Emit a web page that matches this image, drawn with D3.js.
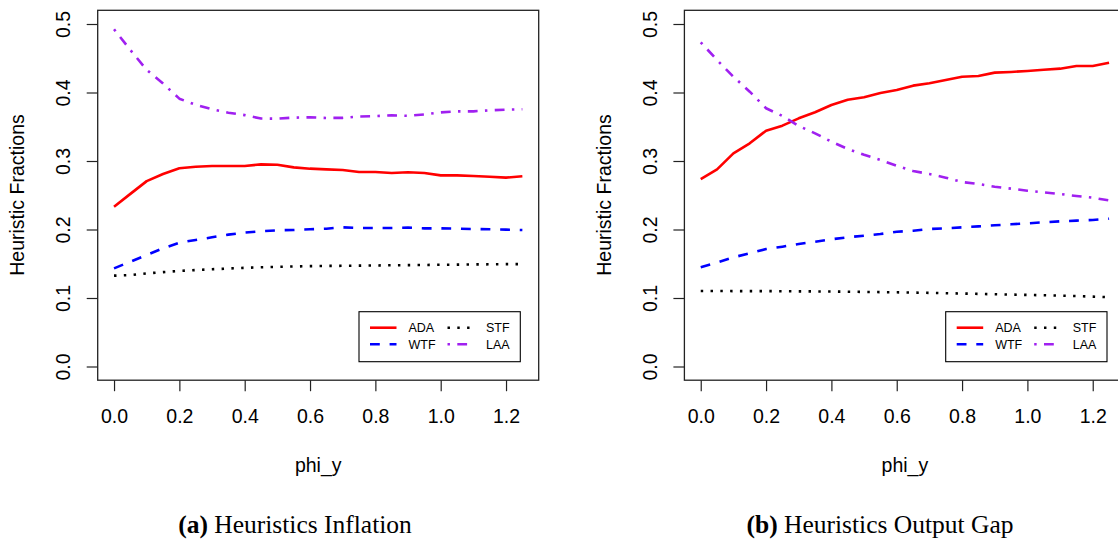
<!DOCTYPE html>
<html>
<head>
<meta charset="utf-8">
<script src="https://cdn.jsdelivr.net/npm/d3@7"></script>
<style>
  html, body { margin: 0; padding: 0; background: #fff; }
  svg { display: block; }
  .sans { font-family: "Liberation Sans", Arial, Helvetica, sans-serif; }
</style>
</head>
<body>
<svg id="chart" width="1118" height="541"></svg>
<script>
// ---------- data ----------
const phiY = [0, 0.05, 0.1, 0.15, 0.2, 0.25, 0.3, 0.35, 0.4, 0.45, 0.5, 0.55, 0.6,
              0.65, 0.7, 0.75, 0.8, 0.85, 0.9, 0.95, 1.0, 1.05, 1.1, 1.15, 1.2, 1.25];

const seriesNames = ["ADA", "WTF", "STF", "LAA"];
const xTicks = [0, 0.2, 0.4, 0.6, 0.8, 1.0, 1.2];
const yTicks = [0, 0.1, 0.2, 0.3, 0.4, 0.5];
const captionLabels = ["(a)", "(b)"];
const captionTexts = [" Heuristics Inflation", " Heuristics Output Gap"];

// (a) Heuristics Inflation
const adaInfl = [0.2333, 0.252, 0.2706, 0.281, 0.2893, 0.2917, 0.2927, 0.2927, 0.2927, 0.2951,
                 0.2946, 0.2907, 0.2888, 0.2878, 0.2869, 0.284, 0.284, 0.2825, 0.2835, 0.2825,
                 0.279, 0.279, 0.278, 0.277, 0.2757, 0.2777];
const wtfInfl = [0.1433, 0.153, 0.1628, 0.1725, 0.1808, 0.1847, 0.1886, 0.1925, 0.1954, 0.1974,
                 0.1988, 0.1993, 0.2003, 0.2012, 0.2032, 0.2022, 0.2022, 0.2022, 0.2027, 0.2017,
                 0.2017, 0.2012, 0.2007, 0.2003, 0.1998, 0.1993];
const stfInfl = [0.1326, 0.1335, 0.136, 0.1378, 0.1395, 0.1408, 0.142, 0.143, 0.144, 0.1448,
                 0.1455, 0.146, 0.1465, 0.1468, 0.147, 0.1472, 0.1475, 0.1478, 0.148, 0.1482,
                 0.1485, 0.1487, 0.149, 0.1492, 0.1494, 0.1495];
const laaInfl = [0.4923, 0.462, 0.433, 0.413, 0.391, 0.382, 0.3755, 0.3705, 0.367, 0.362,
                 0.3618, 0.3633, 0.3638, 0.3628, 0.363, 0.365, 0.3655, 0.3667, 0.366, 0.368,
                 0.371, 0.3725, 0.3725, 0.374, 0.375, 0.3755];

// (b) Heuristics Output Gap
const adaGap = [0.2737, 0.2878, 0.3112, 0.3258, 0.3443, 0.3516, 0.3623, 0.3711, 0.3818, 0.3895,
                0.393, 0.3993, 0.4036, 0.41, 0.4134, 0.4183, 0.4231, 0.4241, 0.429, 0.43,
                0.4314, 0.4333, 0.4348, 0.4387, 0.4387, 0.4435];
const wtfGap = [0.1448, 0.1516, 0.1594, 0.1652, 0.1715, 0.1749, 0.1788, 0.1822, 0.1857, 0.1886,
                0.191, 0.1934, 0.1968, 0.1982, 0.2007, 0.2017, 0.2032, 0.2046, 0.2061, 0.2076,
                0.209, 0.2105, 0.212, 0.2129, 0.2139, 0.2158];
const stfGap = [0.1102, 0.1102, 0.1101, 0.11, 0.11, 0.1099, 0.1097, 0.1096, 0.1094, 0.1092,
                0.1089, 0.1086, 0.1083, 0.1079, 0.1075, 0.107, 0.1065, 0.106, 0.1055, 0.105,
                0.1045, 0.104, 0.1034, 0.1028, 0.102, 0.1012];
const laaGap = [0.4733, 0.4474, 0.4231, 0.4012, 0.377, 0.3657, 0.3511, 0.3404, 0.3282, 0.3175,
                0.3092, 0.3015, 0.2931, 0.2854, 0.281, 0.2757, 0.2693, 0.2664, 0.2625, 0.2596,
                0.2566, 0.2543, 0.2518, 0.2489, 0.2464, 0.2425];

// ---------- styles ----------
const styles = {
  ADA: { color: "#FF0000", dash: null },
  WTF: { color: "#0000FF", dash: "9.8,9.8" },
  STF: { color: "#000000", dash: "2.45,7.35" },
  LAA: { color: "#A020F0", dash: "2.45,7.35,9.8,7.35" }
};

const panels = [
  { offset: 0, data: { ADA: adaInfl, WTF: wtfInfl, STF: stfInfl, LAA: laaInfl }, capX: 295 },
  { offset: 586.7, data: { ADA: adaGap, WTF: wtfGap, STF: stfGap, LAA: laaGap }, capX: 880 }
];

const svg = d3.select("#chart");
const FS = 19.5;
const y = d3.scaleLinear().domain([-0.02, 0.52]).range([380.2, 10.3]);

panels.forEach((p, pi) => {
  const x = d3.scaleLinear().domain([-0.05, 1.30]).range([97.7 + p.offset, 538.7 + p.offset]);
  const g = svg.append("g");

  // lines
  const line = d3.line().x((d, i) => x(phiY[i])).y(d => y(d));
  seriesNames.forEach(name => {
    const s = styles[name];
    g.append("path")
      .datum(p.data[name])
      .attr("d", line)
      .attr("fill", "none")
      .attr("stroke", s.color)
      .attr("stroke-width", 2.6)
      .attr("stroke-linejoin", "round")
      .attr("stroke-dasharray", s.dash);
  });

  // box
  g.append("rect")
    .attr("x", x.range()[0]).attr("y", y.range()[1])
    .attr("width", x.range()[1] - x.range()[0])
    .attr("height", y.range()[0] - y.range()[1])
    .attr("fill", "none").attr("stroke", "#222").attr("stroke-width", 1.3);

  // y axis
  const ya = g.append("g").attr("class", "sans")
    .attr("transform", `translate(${x.range()[0]},0)`)
    .call(d3.axisLeft(y).tickValues(yTicks).tickFormat(d3.format(".1f")).tickSize(11).tickSizeOuter(0));
  ya.select(".domain").remove();
  ya.selectAll(".tick line").attr("stroke", "#222").attr("stroke-width", 1.2);
  ya.selectAll(".tick text")
    .attr("x", null).attr("dy", null)
    .attr("transform", "translate(-27.7,0) rotate(-90)")
    .attr("text-anchor", "middle")
    .attr("font-size", FS).attr("fill", "#000");

  // x axis
  const xa = g.append("g").attr("class", "sans")
    .attr("transform", `translate(0,${y.range()[0]})`)
    .call(d3.axisBottom(x).tickValues(xTicks).tickFormat(d3.format(".1f")).tickSize(11).tickSizeOuter(0));
  xa.select(".domain").remove();
  xa.selectAll(".tick line").attr("stroke", "#222").attr("stroke-width", 1.2);
  xa.selectAll(".tick text")
    .attr("y", 43).attr("dy", null)
    .attr("font-size", FS).attr("fill", "#000");

  // axis titles
  g.append("text").attr("class", "sans")
    .attr("x", (x.range()[0] + x.range()[1]) / 2).attr("y", 472)
    .attr("text-anchor", "middle").attr("font-size", FS)
    .text("phi_y");
  g.append("text").attr("class", "sans")
    .attr("transform", `translate(${24 + p.offset},195) rotate(-90)`)
    .attr("text-anchor", "middle").attr("font-size", FS)
    .text("Heuristic Fractions");

  // legend
  const lg = g.append("g").attr("class", "sans");
  lg.append("rect")
    .attr("x", 359 + p.offset).attr("y", 311.7)
    .attr("width", 161.3).attr("height", 50)
    .attr("fill", "#fff").attr("stroke", "#000").attr("stroke-width", 1.1);
  const legPos = [
    { name: "ADA", lx: 370, tx: 408.5, ly: 327.7 },
    { name: "WTF", lx: 370, tx: 408.5, ly: 344.3 },
    { name: "STF", lx: 447.5, tx: 486, ly: 327.7 },
    { name: "LAA", lx: 447.5, tx: 486, ly: 344.3 }
  ];
  legPos.forEach(e => {
    const s = styles[e.name];
    lg.append("line")
      .attr("x1", e.lx + p.offset).attr("x2", e.lx + 26.5 + p.offset)
      .attr("y1", e.ly).attr("y2", e.ly)
      .attr("stroke", s.color).attr("stroke-width", 2.6)
      .attr("stroke-dasharray", s.dash);
    lg.append("text")
      .attr("x", e.tx + p.offset).attr("y", e.ly).attr("dy", "0.36em")
      .attr("font-size", 12.5)
      .text(e.name);
  });

  // caption
  const cap = svg.append("text")
    .attr("x", p.capX).attr("y", 533)
    .attr("text-anchor", "middle")
    .attr("font-family", "'Liberation Serif', 'Times New Roman', serif")
    .attr("font-size", 25.5);
  cap.append("tspan").attr("font-weight", "bold").text(captionLabels[pi]);
  cap.append("tspan").text(captionTexts[pi]);
});
</script>
</body>
</html>
